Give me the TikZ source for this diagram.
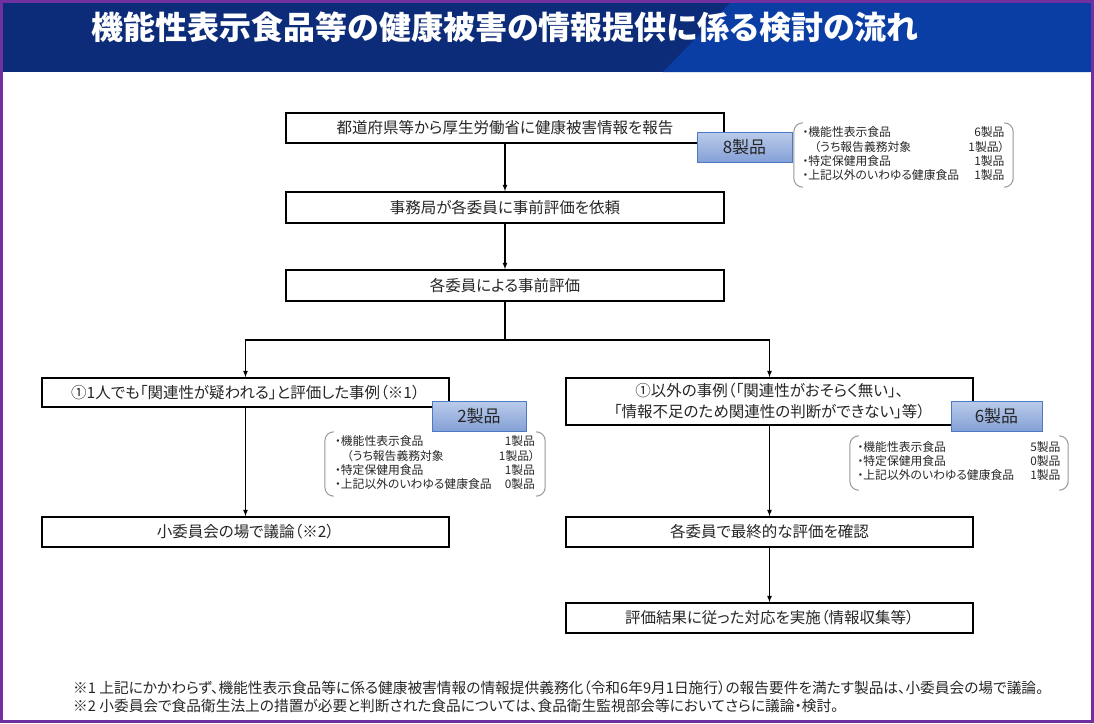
\documentclass[tikz,border=0pt]{standalone}
\usepackage{fontspec}
\setmainfont{Noto Sans CJK JP}[RawFeature=+palt]
\usepackage{tikz}
\usetikzlibrary{arrows,shapes}
\definecolor{framepurple}{RGB}{112,48,160}
\definecolor{bandnavy}{RGB}{12,44,122}
\definecolor{bandblue}{RGB}{10,62,165}
\definecolor{tagtop}{RGB}{186,204,234}
\definecolor{tagbottom}{RGB}{132,160,214}
\definecolor{tagline}{RGB}{79,120,196}
\definecolor{bracketgrey}{RGB}{150,150,150}
\tikzstyle{stepbox}=[draw,line width=1.6pt,fill=white,inner sep=0pt,minimum height=30pt,text=black!85,font=\fontsize{15.5}{21}\selectfont,align=center]
\tikzstyle{widebox}=[stepbox,minimum width=438pt]
\tikzstyle{sidebox}=[stepbox,minimum width=407pt]
\tikzstyle{tag}=[draw=tagline,line width=0.8pt,top color=tagtop,bottom color=tagbottom,minimum height=30pt,inner sep=0pt,text=black!85,font=\fontsize{17}{20}\selectfont]
\tikzstyle{note}=[inner sep=0pt,text=black!85,font=\fontsize{11.8}{13.6}\selectfont]
\tikzstyle{bracket}=[draw=bracketgrey,line width=1pt,rounded corners=9pt]
\tikzstyle{arrow}=[draw,line width=1.2pt,-latex]
\tikzstyle{edge}=[draw,line width=1.2pt,-]
\tikzstyle{footnote}=[anchor=west,inner sep=0pt,text=black!85,font=\fontsize{14.7}{16}\selectfont]
\newcommand{\countlist}[2]{\begin{tabular*}{#1}{@{}l@{\extracolsep{\fill}}r@{}}#2\end{tabular*}}

\begin{document}
\begin{tikzpicture}[x=1pt,y=-1pt]
    \useasboundingbox (0,0) rectangle (1094,723);
    % Title band and frame
    \fill[bandnavy] (0,0) rectangle (1094,72);
    \fill[bandblue] (733,0) -- (1094,0) -- (1094,72) -- (663,72) -- cycle;
    \node[anchor=west,text=white,font=\fontsize{32}{36}\selectfont\bfseries] (title) at (88,27) {機能性表示食品等の健康被害の情報提供に係る検討の流れ};
    \draw[framepurple,line width=3pt] (1.5,1.5) rectangle (1092.5,721.5);

    % First we draw the flow boxes
    \node[widebox] (b1) at (505,128) {都道府県等から厚生労働省に健康被害情報を報告};
    \node[widebox,minimum height=31pt] (b2) at (505,207.5) {事務局が各委員に事前評価を依頼};
    \node[widebox,minimum height=31pt] (b3) at (505,285.5) {各委員による事前評価};
    \node[sidebox,minimum height=29pt] (l1) at (245.5,392.5) {①1人でも「関連性が疑われる」と評価した事例（※1）};
    \node[sidebox] (l2) at (245.5,532) {小委員会の場で議論（※2）};
    \node[sidebox,minimum height=47pt] (r1) at (769.5,401.5) {①以外の事例（「関連性がおそらく無い」、\\「情報不足のため関連性の判断ができない」等）};
    \node[sidebox] (r2) at (769.5,532) {各委員で最終的な評価を確認};
    \node[sidebox] (r3) at (769.5,618) {評価結果に従った対応を実施（情報収集等）};

    % Product counts
    \node[tag,minimum width=95pt] (t1) at (744.5,147) {8製品};
    \node[tag,minimum width=94pt] (t2) at (479,416) {2製品};
    \node[tag,minimum width=91pt] (t3) at (996.5,416) {6製品};

    % Breakdown notes
    \node[note,minimum width=219pt,minimum height=64pt] (n1) at (903.5,155) {\countlist{202pt}{・機能性表示食品 & 6製品\\\quad（うち報告義務対象 & 1製品）\\・特定保健用食品 & 1製品\\・上記以外のいわゆる健康食品 & 1製品}};
    \node[note,minimum width=220pt,minimum height=64pt] (n2) at (435,464) {\countlist{200pt}{・機能性表示食品 & 1製品\\\quad（うち報告義務対象 & 1製品）\\・特定保健用食品 & 1製品\\・上記以外のいわゆる健康食品 & 0製品}};
    \node[note,minimum width=218pt,minimum height=54pt] (n3) at (959,463) {\countlist{203pt}{・機能性表示食品 & 5製品\\・特定保健用食品 & 0製品\\・上記以外のいわゆる健康食品 & 1製品}};
    \foreach \name in {n1,n2,n3} {
        \draw[bracket] ([xshift=9pt]\name.north west) -- (\name.north west) -- (\name.south west) -- ([xshift=9pt]\name.south west);
        \draw[bracket] ([xshift=-9pt]\name.north east) -- (\name.north east) -- (\name.south east) -- ([xshift=-9pt]\name.south east);
    }

    % Connect boxes with arrows
    \foreach \source/\dest in {b1/b2, b2/b3, l1/l2, r1/r2, r2/r3}
        \path[arrow] (\source) -- (\dest);
    \coordinate (split) at (505,340);
    \path[edge] (b3) -- (split);
    \path[arrow] (split) -| (l1);
    \path[arrow] (split) -| (r1);

    % Footnotes
    \node[footnote] (fn1) at (73,688) {※1 上記にかかわらず、機能性表示食品等に係る健康被害情報の情報提供義務化（令和6年9月1日施行）の報告要件を満たす製品は、小委員会の場で議論。};
    \node[footnote] (fn2) at (73,706) {※2 小委員会で食品衛生法上の措置が必要と判断された食品については、食品衛生監視部会等においてさらに議論・検討。};
\end{tikzpicture}
\end{document}
